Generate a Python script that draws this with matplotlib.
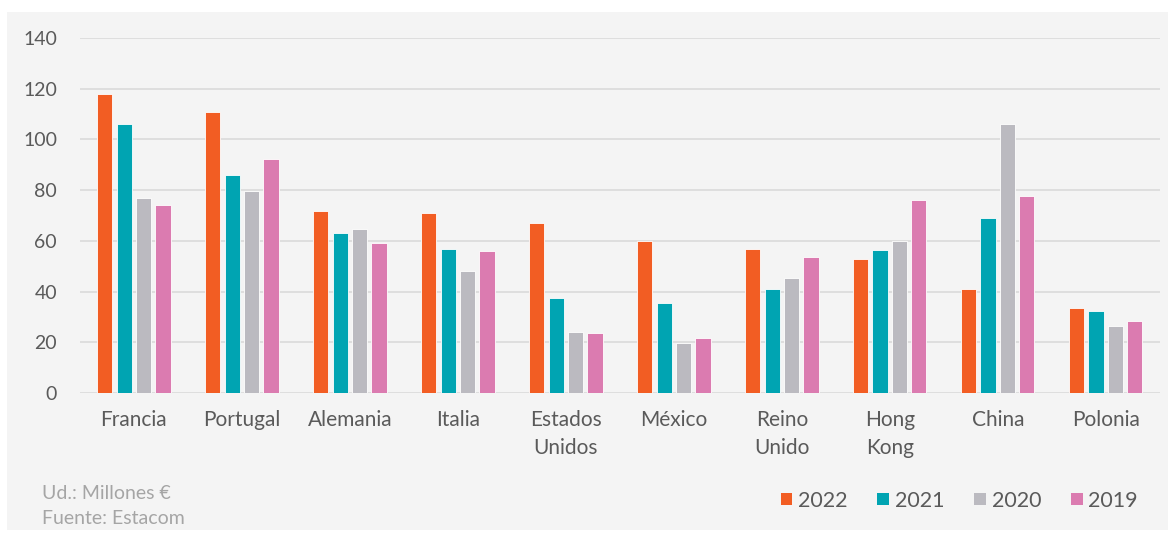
import numpy as np
import matplotlib.pyplot as plt
from matplotlib.patches import Rectangle, Patch

plt.rcParams['font.family'] = ['Lato', 'DejaVu Sans']

paises = ['Francia', 'Portugal', 'Alemania', 'Italia', 'Estados\nUnidos', 'México',
          'Reino\nUnido', 'Hong\nKong', 'China', 'Polonia']
anios = ['2022', '2021', '2020', '2019']
v2022 = [118, 111, 71.7, 70.9, 67, 60, 56.6, 53, 41, 33.4]
v2021 = [106, 85.8, 63, 56.6, 37.6, 35.6, 40.8, 56.4, 69, 32.3]
v2020 = [77, 79.5, 64.6, 47.9, 24, 19.8, 45.5, 60, 106, 26.3]
v2019 = [74.3, 92.4, 59.1, 55.8, 23.5, 21.8, 53.5, 76, 77.6, 28.5]
colores = ['#F25D23', '#00A4B2', '#BBBAC0', '#DB7BB0']

fig = plt.figure(figsize=(11.75, 5.36), dpi=100)
fig.patch.set_facecolor('white')
fig.patches.append(Rectangle((0.006, 0.012), 0.988, 0.965, transform=fig.transFigure,
                             facecolor='#F4F4F4', edgecolor='none', zorder=-10))

ax = fig.add_axes([0.068, 0.267, 0.919, 0.662])
ax.set_facecolor('none')

x = np.arange(len(paises))
ancho = 0.14
paso = 0.18
for i, (serie, color) in enumerate(zip([v2022, v2021, v2020, v2019], colores)):
    ax.bar(x + (i - 1.5) * paso, serie, width=ancho, color=color,
           edgecolor='white', linewidth=0.6, zorder=3)

ax.set_xlim(-0.5, len(paises) - 0.5)
ax.set_ylim(0, 140)
ax.set_yticks(np.arange(0, 141, 20))
ax.grid(axis='y', color='#DCDCDC', linewidth=1.3, zorder=0)
for s in ax.spines.values():
    s.set_visible(False)
ax.tick_params(axis='both', length=0, labelcolor='#5A5A5A')
ax.tick_params(axis='y', pad=16.5, labelsize=14)
ax.tick_params(axis='x', pad=12, labelsize=15)
ax.set_xticks(x)
ax.set_xticklabels(paises, linespacing=1.55, va='top')

handles = [Patch(facecolor=c, edgecolor='none', label=a) for a, c in zip(anios, colores)]
fig.legend(handles=handles, loc='center right', bbox_to_anchor=(0.985, 0.066), ncol=4,
           frameon=False, fontsize=15.5, handlelength=0.55, handleheight=0.55,
           handletextpad=0.25, columnspacing=1.4, labelcolor='#5A5A5A')

fig.text(0.036, 0.08, 'Ud.: Millones €', fontsize=14, color='#A5A5A5', va='center')
fig.text(0.036, 0.033, 'Fuente: Estacom', fontsize=14, color='#A5A5A5', va='center')

fig.savefig('out.png', dpi=100, facecolor=fig.get_facecolor())
